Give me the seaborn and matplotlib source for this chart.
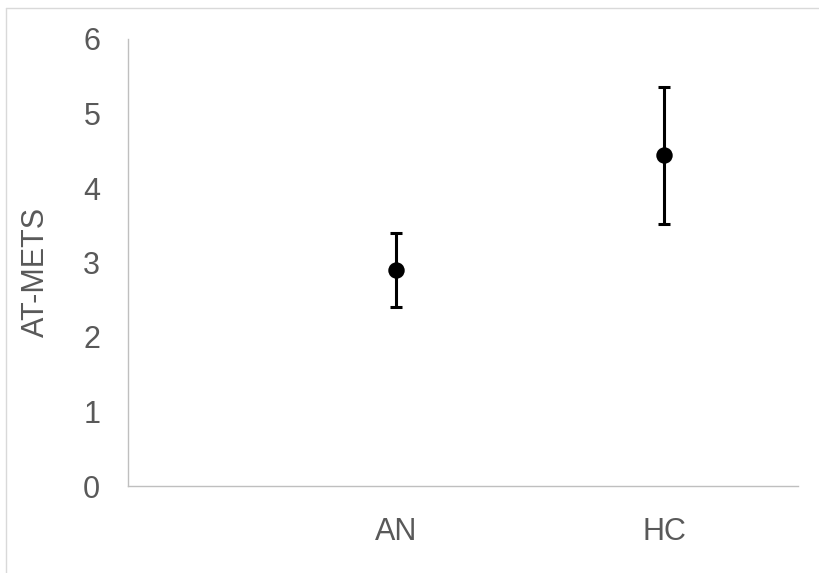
import numpy as np
import pandas as pd
import matplotlib
matplotlib.use('Agg')
import matplotlib.pyplot as plt
from matplotlib.lines import Line2D
import seaborn as sns

# data
groups = ['AN', 'HC']
positions = [1, 2]
means = [2.90, 4.44]
errors = [0.50, 0.92]

df = pd.DataFrame({'group': groups, 'pos': positions, 'mean': means, 'err': errors})

sns.set_style('white')
plt.rcParams['font.family'] = ['Liberation Sans', 'DejaVu Sans']

grey_txt = '#595959'
grey_line = '#BFBFBF'

fig = plt.figure(figsize=(8.19, 5.73), dpi=100)
ax = fig.add_axes([128/819, 1 - 486/573, 670/819, 447/573])

ax.errorbar(df['pos'], df['mean'], yerr=df['err'], fmt='none',
            ecolor='black', elinewidth=2.2, capsize=4.6, capthick=2.2, zorder=2)
sns.scatterplot(data=df, x='pos', y='mean', color='black', s=140,
                edgecolor='black', linewidth=0, ax=ax, zorder=3)

ax.set_xlim(0, 2.5)
ax.set_ylim(0, 6)
ax.set_yticks(range(0, 7))
ax.set_xticks(positions)
ax.set_xticklabels(groups)
ax.set_xlabel('')
ax.set_ylabel('AT-METS', fontsize=22, color=grey_txt, va='center')
ax.yaxis.set_label_coords(-0.137, 0.479)

ax.tick_params(axis='both', length=0, labelsize=22, labelcolor=grey_txt)
ax.tick_params(axis='y', pad=20)
ax.tick_params(axis='x', pad=22)

for side in ['top', 'right']:
    ax.spines[side].set_visible(False)
for side in ['left', 'bottom']:
    ax.spines[side].set_color(grey_line)
    ax.spines[side].set_linewidth(1.0)

# outer chart border (only left and top edges are visible)
fig.add_artist(Line2D([5.5/819, 5.5/819], [0, 1 - 7.5/573], transform=fig.transFigure,
                      color='#D9D9D9', linewidth=1.0))
fig.add_artist(Line2D([5.5/819, 1], [1 - 7.5/573, 1 - 7.5/573], transform=fig.transFigure,
                      color='#D9D9D9', linewidth=1.0))

fig.savefig('out.png', dpi=100)
